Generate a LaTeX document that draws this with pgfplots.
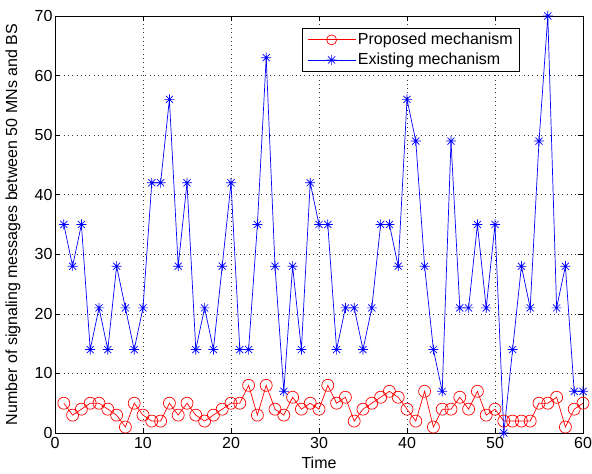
\documentclass[border=0pt]{standalone}
\usepackage{fontspec}
\setmainfont{Liberation Sans}
\usepackage{pgfplots}
\pgfplotsset{compat=1.18}

% MATLAB-like '*' marker: plus and cross together
\pgfdeclareplotmark{mstar}{%
  \pgfpathmoveto{\pgfqpoint{-\pgfplotmarksize}{0pt}}%
  \pgfpathlineto{\pgfqpoint{\pgfplotmarksize}{0pt}}%
  \pgfpathmoveto{\pgfqpoint{0pt}{-\pgfplotmarksize}}%
  \pgfpathlineto{\pgfqpoint{0pt}{\pgfplotmarksize}}%
  \pgfpathmoveto{\pgfqpoint{-0.707\pgfplotmarksize}{-0.707\pgfplotmarksize}}%
  \pgfpathlineto{\pgfqpoint{0.707\pgfplotmarksize}{0.707\pgfplotmarksize}}%
  \pgfpathmoveto{\pgfqpoint{-0.707\pgfplotmarksize}{0.707\pgfplotmarksize}}%
  \pgfpathlineto{\pgfqpoint{0.707\pgfplotmarksize}{-0.707\pgfplotmarksize}}%
  \pgfusepathqstroke}

\pgfplotstableread{
t  prop  exist
1  5  35
2  3  28
3  4  35
4  5  14
5  5  21
6  4  14
7  3  28
8  1  21
9  5  14
10 3  21
11 2  42
12 2  42
13 5  56
14 3  28
15 5  42
16 3  14
17 2  21
18 3  14
19 4  28
20 5  42
21 5  14
22 8  14
23 3  35
24 8  63
25 4  28
26 3  7
27 6  28
28 4  14
29 5  42
30 4  35
31 8  35
32 5  14
33 6  21
34 2  21
35 4  14
36 5  21
37 6  35
38 7  35
39 6  28
40 4  56
41 2  49
42 7  28
43 1  14
44 4  7
45 4  49
46 6  21
47 4  21
48 7  35
49 3  21
50 4  35
51 2  0
52 2  14
53 2  28
54 2  21
55 5  49
56 5  70
57 6  21
58 1  28
59 4  7
60 5  7
}\datatable

\begin{document}
\begin{tikzpicture}
\begin{axis}[
    scale only axis,
    width=528pt, height=417pt,
    xmin=0, xmax=60, ymin=0, ymax=70,
    xtick={0,10,...,60},
    ytick={0,10,...,70},
    tick align=inside,
    major tick length=5pt,
    minor tick num=0,
    axis line style={line width=0.8pt},
    every tick/.style={black, line width=0.6pt},
    grid=major,
    grid style={black!80, line width=0.5pt, dash pattern=on 0.8pt off 3.5pt},
    font=\fontsize{16}{19}\selectfont,
    /pgf/number format/assume math mode=true,
    xticklabel style={yshift=-1pt},
    yticklabel style={xshift=1pt},
    xlabel={Time},
    ylabel={Number of signaling messages between 50 MNs and BS},
    xlabel style={at={(axis description cs:0.5,-0.072)}, anchor=center},
    ylabel style={at={(axis description cs:-0.0795,0.5)}, anchor=center},
    legend style={
        at={(axis description cs:0.8807,0.9712)}, anchor=north east,
        draw=black, line width=0.6pt, fill=white,
        font=\fontsize{16}{19}\selectfont,
        inner xsep=5pt, inner ysep=3pt,
        row sep=3pt,
        cells={anchor=west},
    },
    legend cell align=left,
    legend image code/.code={%
        \draw[mark repeat=2, mark phase=2, mark size=5pt]
            plot coordinates {(0pt,0pt) (24pt,0pt) (48pt,0pt)};},
]
\addplot[red, line width=0.7pt, mark=o, mark size=6pt,
         mark options={line width=0.7pt}]
    table[x=t, y=prop] {\datatable};
\addlegendentry{Proposed mechanism}
\addplot[blue, line width=0.7pt, mark=mstar, mark size=5pt,
         mark options={line width=0.7pt}]
    table[x=t, y=exist] {\datatable};
\addlegendentry{Existing mechanism}
\end{axis}
\pgfresetboundingbox
\useasboundingbox ([shift={(-55pt,-41pt)}]current axis.south west)
    rectangle ([shift={(9pt,16pt)}]current axis.north east);
\end{tikzpicture}
\end{document}
